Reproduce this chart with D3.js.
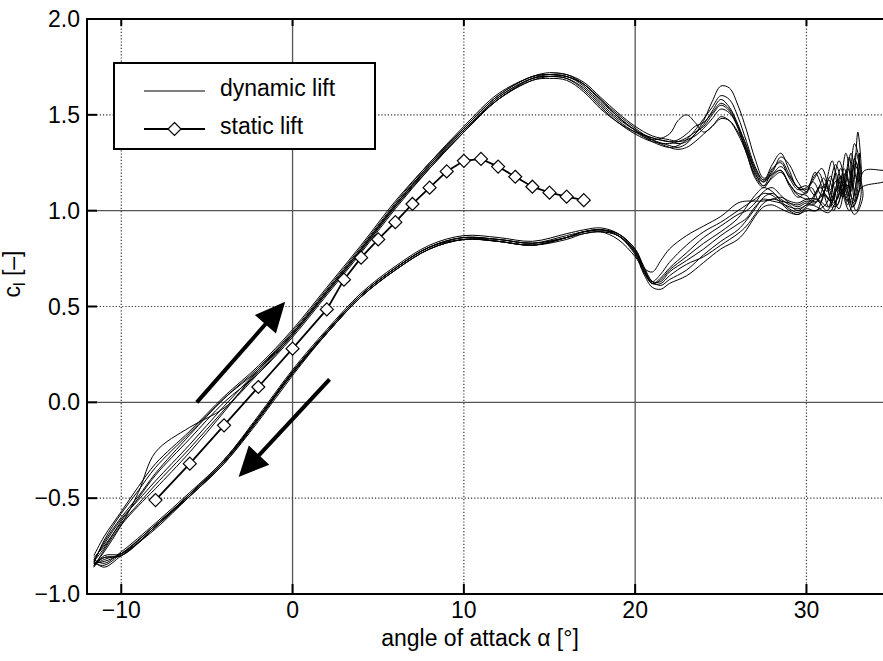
<!DOCTYPE html>
<html><head><meta charset="utf-8">
<script src="https://cdn.jsdelivr.net/npm/d3@7"></script>
<style>body{margin:0;background:#fff} svg{display:block} text{font-family:"Liberation Sans",Arial,Helvetica,sans-serif;fill:#000}</style>
</head><body><svg id="c" width="883" height="661"></svg>
<script>
// ---------- data ----------
const alphaUp = [-11.6,-11,-10,-9,-8,-6,-4,-2,0,2,4,6,8,10,12,14,15,16,17,18,19,20,21,22,22.5,23,23.5,24,24.5,25,25.5,26,26.5,27,27.5,28,28.5,29,29.5,30];
const alphaDown = [30,29.5,29,28.5,28,27.5,27,26.5,26,25,24,23,22,21.5,21,20.5,20,19,18,17,16,14,12,10,8,6,4,2,0,-2,-4,-6,-8,-10,-11,-11.6];

const upCycle1 = [-0.83,-0.73,-0.60,-0.49,-0.37,-0.17,0.02,0.18,0.37,0.59,0.81,1.04,1.25,1.43,1.60,1.70,1.71,1.70,1.66,1.57,1.49,1.42,1.38,1.36,1.35,1.36,1.40,1.45,1.52,1.58,1.54,1.45,1.33,1.21,1.15,1.22,1.25,1.17,1.11,1.12];
const upCycle2 = [-0.81,-0.75,-0.63,-0.53,-0.43,-0.24,-0.04,0.16,0.35,0.57,0.79,1.02,1.23,1.42,1.59,1.69,1.70,1.69,1.64,1.55,1.47,1.41,1.37,1.40,1.47,1.50,1.46,1.41,1.44,1.49,1.47,1.40,1.30,1.17,1.12,1.18,1.21,1.14,1.09,1.08];
const upCycle3 = [-0.84,-0.72,-0.58,-0.46,-0.34,-0.16,0.02,0.17,0.36,0.58,0.80,1.03,1.24,1.42,1.58,1.68,1.70,1.70,1.65,1.56,1.48,1.42,1.37,1.34,1.33,1.35,1.40,1.47,1.57,1.65,1.64,1.55,1.42,1.27,1.17,1.20,1.28,1.24,1.15,1.10];
const upCycle4 = [-0.86,-0.77,-0.64,-0.54,-0.45,-0.26,-0.05,0.17,0.36,0.58,0.80,1.03,1.23,1.41,1.58,1.69,1.71,1.71,1.66,1.58,1.50,1.43,1.37,1.33,1.32,1.33,1.36,1.40,1.44,1.48,1.47,1.41,1.32,1.20,1.13,1.17,1.20,1.14,1.08,1.06];
const upCycle5 = [-0.85,-0.78,-0.64,-0.47,-0.26,-0.13,-0.03,0.15,0.35,0.57,0.79,1.02,1.22,1.41,1.59,1.69,1.70,1.69,1.63,1.54,1.46,1.40,1.36,1.35,1.36,1.38,1.41,1.44,1.50,1.55,1.52,1.43,1.30,1.18,1.13,1.21,1.26,1.19,1.12,1.09];
const upCycle6 = [-0.80,-0.70,-0.57,-0.44,-0.32,-0.15,0.03,0.19,0.38,0.60,0.82,1.05,1.25,1.44,1.61,1.70,1.72,1.71,1.67,1.59,1.51,1.44,1.39,1.37,1.36,1.37,1.39,1.43,1.48,1.53,1.51,1.44,1.34,1.22,1.16,1.24,1.30,1.21,1.12,1.13];
const upCycle7 = [-0.83,-0.76,-0.62,-0.50,-0.38,-0.19,0.00,0.15,0.34,0.56,0.78,1.01,1.22,1.41,1.58,1.68,1.69,1.68,1.62,1.53,1.46,1.41,1.38,1.36,1.37,1.40,1.44,1.46,1.51,1.56,1.53,1.44,1.31,1.19,1.15,1.19,1.21,1.13,1.07,1.10];
const upCycle8 = [-0.82,-0.74,-0.61,-0.51,-0.41,-0.22,-0.02,0.17,0.36,0.58,0.80,1.03,1.24,1.43,1.60,1.70,1.71,1.70,1.66,1.58,1.49,1.42,1.36,1.33,1.34,1.37,1.42,1.48,1.54,1.60,1.58,1.49,1.36,1.23,1.16,1.19,1.23,1.18,1.12,1.11];

const tip1 = [[30.4,1.15],[30.9,1.08],[31.4,1.18],[31.8,1.06],[32.2,1.22],[32.6,1.10],[32.9,1.25],[33.1,1.12],[32.7,1.02],[32.2,1.15],[31.6,1.04],[31.0,1.08],[30.4,1.03]];
const tip2 = [[30.3,1.05],[30.8,1.13],[31.3,1.02],[31.7,1.20],[32.1,1.07],[32.5,1.28],[32.8,1.05],[33.0,1.20],[32.5,1.00],[31.9,1.12],[31.2,1.00],[30.6,1.06]];
const tip3 = [[30.5,1.20],[31.0,1.12],[31.5,1.26],[31.9,1.10],[32.3,1.30],[32.7,1.12],[33.0,1.41],[33.2,1.18],[32.9,1.30],[32.4,1.05],[31.8,1.16],[31.1,1.03],[30.5,1.00]];
const tip4 = [[30.6,1.05],[31.1,1.14],[31.6,1.00],[32.0,1.18],[32.4,1.03],[32.8,1.24],[33.3,1.08],[32.8,0.98],[32.1,1.10],[31.3,0.99],[30.6,1.02]];
const tip5 = [[30.2,1.14],[30.7,1.20],[31.2,1.10],[31.7,1.24],[32.2,1.12],[32.6,1.30],[33.0,1.15],[33.4,1.21],[34.5,1.21],[36.0,1.20],[34.5,1.15],[33.2,1.12],[32.7,1.02],[32.0,1.15],[31.3,1.02],[30.6,1.06]];
const tip6 = [[30.5,1.08],[31.0,1.17],[31.5,1.05],[32.0,1.22],[32.4,1.08],[32.8,1.27],[33.2,1.10],[32.9,1.00],[32.3,1.14],[31.7,1.02],[31.0,1.09],[30.5,1.04]];
const tip7 = [[30.3,1.12],[30.8,1.04],[31.3,1.16],[31.8,1.03],[32.3,1.20],[32.7,1.06],[33.1,1.30],[32.9,1.08],[32.4,1.22],[31.9,1.01],[31.2,1.12],[30.6,1.00]];
const tip8 = [[30.4,1.16],[30.9,1.22],[31.4,1.11],[31.9,1.26],[32.4,1.12],[32.8,1.35],[33.2,1.16],[32.7,1.04],[32.0,1.18],[31.4,1.05],[30.8,1.12],[30.3,1.06]];

const downCycle1 = [1.03,1.00,1.03,1.06,1.09,1.07,1.01,0.95,0.90,0.84,0.77,0.69,0.64,0.61,0.63,0.71,0.80,0.88,0.90,0.89,0.87,0.83,0.85,0.86,0.81,0.70,0.56,0.37,0.16,-0.08,-0.31,-0.48,-0.64,-0.79,-0.83,-0.84];
const downCycle2 = [1.06,1.04,1.05,1.07,1.06,1.05,1.05,1.05,1.04,0.97,0.92,0.87,0.80,0.74,0.68,0.70,0.76,0.85,0.89,0.89,0.86,0.82,0.84,0.85,0.80,0.69,0.55,0.36,0.15,-0.09,-0.32,-0.49,-0.65,-0.80,-0.81,-0.85];
const downCycle3 = [1.00,0.98,0.99,1.01,1.03,1.02,0.97,0.90,0.85,0.80,0.73,0.66,0.62,0.59,0.60,0.67,0.77,0.87,0.90,0.89,0.86,0.82,0.84,0.85,0.80,0.69,0.55,0.36,0.14,-0.10,-0.32,-0.49,-0.66,-0.80,-0.86,-0.83];
const downCycle4 = [1.04,1.02,1.04,1.08,1.12,1.10,1.04,1.00,0.98,0.92,0.86,0.78,0.70,0.65,0.62,0.68,0.78,0.87,0.89,0.88,0.86,0.83,0.85,0.85,0.80,0.69,0.55,0.36,0.15,-0.09,-0.31,-0.48,-0.65,-0.79,-0.80,-0.86];
const downCycle5 = [1.02,0.99,1.01,1.05,1.10,1.12,1.08,1.02,0.96,0.89,0.83,0.76,0.69,0.64,0.62,0.69,0.79,0.88,0.91,0.90,0.88,0.84,0.86,0.87,0.82,0.71,0.57,0.38,0.17,-0.07,-0.30,-0.47,-0.63,-0.78,-0.84,-0.82];
const downCycle6 = [1.05,1.03,1.04,1.05,1.06,1.04,0.98,0.92,0.88,0.82,0.76,0.72,0.66,0.62,0.62,0.70,0.80,0.88,0.90,0.89,0.86,0.82,0.84,0.86,0.81,0.70,0.56,0.37,0.15,-0.08,-0.31,-0.49,-0.64,-0.79,-0.82,-0.85];
const downCycle7 = [1.01,0.98,1.00,1.04,1.08,1.09,1.06,1.03,1.00,0.94,0.89,0.82,0.73,0.67,0.63,0.68,0.78,0.87,0.90,0.89,0.86,0.83,0.85,0.86,0.81,0.70,0.56,0.37,0.16,-0.08,-0.31,-0.48,-0.64,-0.79,-0.85,-0.84];
const downCycle8 = [1.03,1.01,1.02,1.04,1.05,1.06,1.02,0.96,0.93,0.87,0.80,0.74,0.68,0.63,0.63,0.70,0.79,0.87,0.89,0.88,0.85,0.82,0.84,0.85,0.81,0.70,0.56,0.37,0.16,-0.08,-0.30,-0.48,-0.65,-0.80,-0.81,-0.84];

const staticAlpha = [-8,-6,-4,-2,0,2,3,4,5,6,7,8,9,10,11,12,13,14,15,16,17];
const staticCl = [-0.51,-0.32,-0.12,0.08,0.28,0.485,0.64,0.755,0.85,0.94,1.035,1.12,1.205,1.26,1.27,1.23,1.177,1.125,1.094,1.073,1.055];

const xTickVals = [-10,0,10,20,30];
const yTickVals = [-1,-0.5,0,0.5,1,1.5,2];
const solidGridX = [0,20], dottedGridX = [-10,10,30];
const solidGridY = [0,1], dottedGridY = [-0.5,0.5,1.5];
const arrowUp = {from:[-5.59,0.0], to:[-0.43,0.525]};
const arrowDown = {from:[2.16,0.12], to:[-3.15,-0.39]};
const legendLabels = ["dynamic lift","static lift"];
const xLabel = "angle of attack \u03b1 [\u00b0]";

// ---------- chart ----------
const upCycles = [upCycle1,upCycle2,upCycle3,upCycle4,upCycle5,upCycle6,upCycle7,upCycle8];
const tips = [tip1,tip2,tip3,tip4,tip5,tip6,tip7,tip8];
const downCycles = [downCycle1,downCycle2,downCycle3,downCycle4,downCycle5,downCycle6,downCycle7,downCycle8];

const svg = d3.select("#c");
const x = d3.scaleLinear().domain([-12,35]).range([87, 87+47*17.13]);
const y = d3.scaleLinear().domain([-1,2]).range([594,19]);
const fmt = d3.format(".1f");

svg.append("defs").append("clipPath").attr("id","clip").append("rect")
  .attr("x",x(-12)).attr("y",y(2)).attr("width",x(35)-x(-12)).attr("height",y(-1)-y(2));

// grid
const g = svg.append("g");
g.selectAll(".gxs").data(solidGridX).enter().append("line")
  .attr("x1",d=>x(d)).attr("x2",d=>x(d)).attr("y1",y(2)).attr("y2",y(-1))
  .attr("stroke","#555").attr("stroke-width",1.3);
g.selectAll(".gys").data(solidGridY).enter().append("line")
  .attr("y1",d=>y(d)).attr("y2",d=>y(d)).attr("x1",x(-12)).attr("x2",x(35))
  .attr("stroke","#555").attr("stroke-width",1.3);
g.selectAll(".gxd").data(dottedGridX).enter().append("line")
  .attr("x1",d=>x(d)).attr("x2",d=>x(d)).attr("y1",y(2)).attr("y2",y(-1))
  .attr("stroke","#333").attr("stroke-width",1.2).attr("stroke-dasharray","1.2,2");
g.selectAll(".gyd").data(dottedGridY).enter().append("line")
  .attr("y1",d=>y(d)).attr("y2",d=>y(d)).attr("x1",x(-12)).attr("x2",x(35))
  .attr("stroke","#333").attr("stroke-width",1.2).attr("stroke-dasharray","1.2,2");

// dynamic cycles
const line = d3.line().x(d=>x(d[0])).y(d=>y(d[1])).curve(d3.curveCatmullRom.alpha(0.5));
const plot = svg.append("g").attr("clip-path","url(#clip)");
upCycles.forEach((up,i)=>{
  const pts = alphaUp.map((a,j)=>[a,up[j]])
    .concat(tips[i])
    .concat(alphaDown.map((a,j)=>[a,downCycles[i][j]]));
  plot.append("path").attr("d",line(pts)).attr("fill","none")
    .attr("stroke","#000").attr("stroke-width",1);
});

// static lift
const staticPts = staticAlpha.map((a,i)=>[a,staticCl[i]]);
plot.append("path").attr("d",d3.line().x(d=>x(d[0])).y(d=>y(d[1]))(staticPts))
  .attr("fill","none").attr("stroke","#000").attr("stroke-width",1.8);
const diamond = s => `M0,${-s}L${s},0L0,${s}L${-s},0Z`;
plot.selectAll(".dm").data(staticPts).enter().append("path")
  .attr("transform",d=>`translate(${x(d[0])},${y(d[1])})`)
  .attr("d",diamond(6.5)).attr("fill","#fff").attr("stroke","#000").attr("stroke-width",1.2);

// arrows
[arrowUp,arrowDown].forEach(a=>{
  const p0=[x(a.from[0]),y(a.from[1])], p1=[x(a.to[0]),y(a.to[1])];
  const dx=p1[0]-p0[0], dy=p1[1]-p0[1], L=Math.hypot(dx,dy);
  const ux=dx/L, uy=dy/L, nx=-uy, ny=ux, hl=30, hw=14;
  const b=[p1[0]-ux*hl, p1[1]-uy*hl];
  svg.append("line").attr("x1",p0[0]).attr("y1",p0[1]).attr("x2",b[0]+ux*2).attr("y2",b[1]+uy*2)
    .attr("stroke","#000").attr("stroke-width",4);
  svg.append("path").attr("d",`M${p1[0]},${p1[1]}L${b[0]+nx*hw},${b[1]+ny*hw}L${b[0]-nx*hw},${b[1]-ny*hw}Z`).attr("fill","#000");
});

// frame & ticks
svg.append("rect").attr("x",x(-12)).attr("y",y(2)).attr("width",x(35)-x(-12)).attr("height",y(-1)-y(2))
  .attr("fill","none").attr("stroke","#000").attr("stroke-width",2);
svg.selectAll(".yt").data(yTickVals).enter().append("line")
  .attr("x1",x(-12)).attr("x2",x(-12)+10).attr("y1",d=>y(d)).attr("y2",d=>y(d))
  .attr("stroke","#000").attr("stroke-width",2);
svg.selectAll(".xtb").data(xTickVals).enter().append("line")
  .attr("x1",d=>x(d)).attr("x2",d=>x(d)).attr("y1",y(-1)).attr("y2",y(-1)-10)
  .attr("stroke","#000").attr("stroke-width",2);
svg.selectAll(".xtt").data(xTickVals).enter().append("line")
  .attr("x1",d=>x(d)).attr("x2",d=>x(d)).attr("y1",y(2)).attr("y2",y(2)+7)
  .attr("stroke","#000").attr("stroke-width",2);

// tick labels
svg.selectAll(".ytl").data(yTickVals).enter().append("text")
  .attr("x",80).attr("y",d=>y(d)).attr("dy","0.35em").attr("text-anchor","end")
  .attr("font-size",23).text(d=>fmt(d));
svg.selectAll(".xtl").data(xTickVals).enter().append("text")
  .attr("x",d=>x(d)).attr("y",618).attr("text-anchor","middle")
  .attr("font-size",23).text(d=>d3.format("d")(d));

// axis labels
svg.append("text").attr("x",480).attr("y",646).attr("text-anchor","middle")
  .attr("font-size",23).text(xLabel);
const yl = svg.append("text").attr("transform","translate(20,274) rotate(-90)")
  .attr("text-anchor","middle").attr("font-size",23);
yl.append("tspan").text("c");
yl.append("tspan").attr("font-size",16).attr("dy",5).text("l");
yl.append("tspan").attr("dy",-5).text(" [\u2013]");

// legend
const lg = svg.append("g");
lg.append("rect").attr("x",114).attr("y",63).attr("width",261).attr("height",86)
  .attr("fill","#fff").attr("stroke","#000").attr("stroke-width",2);
lg.append("line").attr("x1",144).attr("x2",205).attr("y1",91).attr("y2",91).attr("stroke","#000").attr("stroke-width",1);
lg.append("line").attr("x1",144).attr("x2",205).attr("y1",129).attr("y2",129).attr("stroke","#000").attr("stroke-width",2);
lg.append("path").attr("transform","translate(174.5,129)").attr("d",diamond(6.5))
  .attr("fill","#fff").attr("stroke","#000").attr("stroke-width",1.2);
lg.selectAll(".lt").data(legendLabels).enter().append("text")
  .attr("x",220).attr("y",(d,i)=>i?133.5:96).attr("font-size",23).text(d=>d);
</script></body></html>
